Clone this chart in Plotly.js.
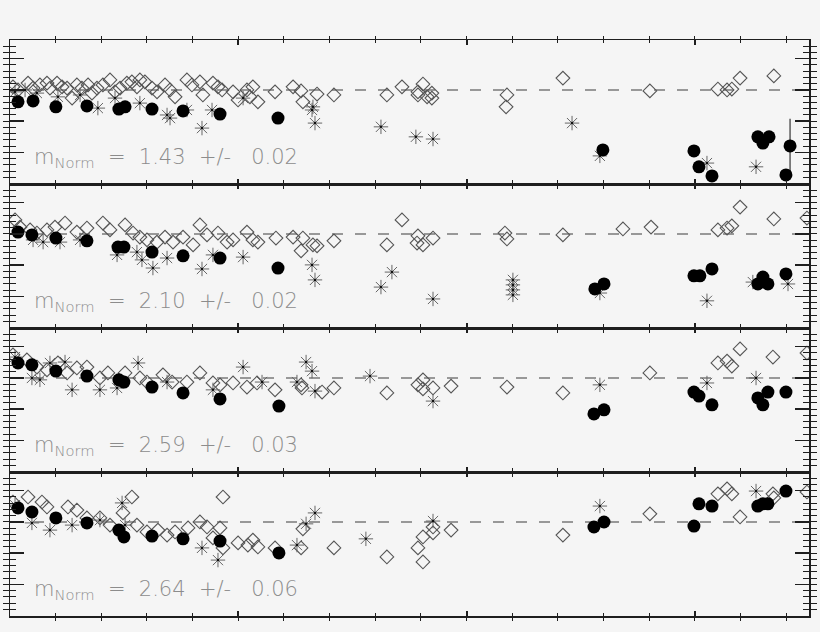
<!DOCTYPE html>
<html>
<head>
<meta charset="utf-8">
<script src="https://cdn.plot.ly/plotly-3.0.1.min.js"></script>
<style>html,body{margin:0;padding:0;background:#f5f5f5;}#chart{width:820px;height:632px;}</style>
</head>
<body>
<div id="chart"></div>
<script>
// ---------- data (x: 0..3.5, y: ratio, reference = 1) ----------
const REF = 1.0;
const mValues = ['1.43', '2.10', '2.59', '2.64'];
const mErrors = ['0.02', '0.02', '0.03', '0.06'];

// Panel 1
const p1DiaX = [0.013,0.035,0.079,0.101,0.131,0.162,0.175,0.206,0.228,0.250,0.272,0.293,0.315,0.342,0.359,0.381,0.407,0.438,0.460,0.482,0.512,0.534,0.556,0.569,0.591,0.622,0.644,0.679,0.701,0.723,0.775,0.797,0.832,0.845,0.889,0.911,0.929,0.977,0.999,1.038,1.051,1.064,1.086,1.161,1.240,1.275,1.283,1.345,1.419,1.651,1.717,1.787,1.809,1.787,1.827,1.848,1.848,2.177,2.173,2.422,2.803,3.101,3.141,3.162,3.198,3.346];
const p1DiaY = [1.010,1.000,1.022,1.006,1.016,1.022,1.006,1.022,1.010,1.006,0.974,1.016,1.006,1.016,0.990,1.006,1.016,1.032,0.994,1.006,1.022,1.026,1.010,1.032,1.026,1.006,0.994,1.016,1.000,0.978,1.032,1.016,1.026,0.984,1.022,1.010,1.000,0.994,0.968,1.000,0.978,1.010,0.962,0.994,1.010,0.997,0.962,0.987,0.984,0.984,1.010,0.994,1.019,0.984,0.978,0.990,0.974,0.984,0.946,1.038,0.997,1.003,1.000,1.003,1.038,1.045];
const p1AstX = [0.022,0.066,0.118,0.210,0.307,0.385,0.460,0.569,0.688,0.701,0.775,0.841,0.885,1.021,1.323,1.327,1.336,1.625,1.778,1.853,2.462,2.584,3.053,3.268];
const p1AstY = [0.994,1.000,0.990,0.978,0.984,0.942,0.974,0.958,0.920,0.910,0.936,0.878,0.936,0.974,0.936,0.946,0.894,0.882,0.850,0.843,0.894,0.789,0.766,0.754];
const p1CirX = [0.035,0.101,0.201,0.337,0.477,0.504,0.622,0.758,0.920,1.174,2.597,2.996,3.018,3.075,3.276,3.298,3.325,3.417,3.399];
const p1CirY = [0.962,0.965,0.946,0.949,0.939,0.946,0.939,0.933,0.923,0.910,0.808,0.805,0.754,0.725,0.850,0.830,0.850,0.821,0.728];
const p1CirErr = [0,0,0,0,0,0,0,0,0,0,0,0,0,0,0,0,0,0.087,0];

// Panel 2
const p2DiaX = [0.022,0.044,0.088,0.118,0.162,0.197,0.241,0.293,0.337,0.407,0.438,0.504,0.539,0.569,0.600,0.644,0.679,0.714,0.758,0.802,0.832,0.863,0.911,0.951,0.977,1.038,1.064,1.086,1.165,1.240,1.283,1.275,1.327,1.345,1.419,1.651,1.717,1.787,1.783,1.809,1.853,2.168,2.177,2.422,2.685,2.808,3.101,3.141,3.162,3.198,3.346,3.491];
const p2DiaY = [1.045,1.022,1.013,1.003,1.013,1.022,1.035,1.006,1.019,1.035,1.013,1.029,1.003,0.990,0.981,0.974,0.990,0.974,0.990,0.965,1.029,0.997,1.003,0.974,0.981,1.006,0.981,0.974,0.987,0.990,0.987,0.946,0.965,0.962,0.978,0.965,1.045,0.994,0.971,0.965,0.987,1.003,0.984,0.997,1.016,1.022,1.013,1.019,1.026,1.086,1.048,1.051];
const p2AstX = [0.101,0.145,0.219,0.307,0.469,0.556,0.578,0.626,0.688,0.841,0.889,1.021,1.323,1.336,1.625,1.673,1.853,2.203,2.203,2.203,2.203,2.584,3.053,3.254,3.408];
const p2AstY = [0.981,0.974,0.974,0.981,0.933,0.942,0.917,0.891,0.923,0.888,0.933,0.926,0.901,0.853,0.830,0.878,0.792,0.853,0.837,0.821,0.805,0.811,0.786,0.846,0.840];
const p2CirX = [0.035,0.096,0.201,0.337,0.473,0.499,0.622,0.758,0.920,1.174,2.562,2.602,2.996,3.022,3.075,3.276,3.298,3.320,3.399];
const p2CirY = [1.006,0.997,0.987,0.978,0.958,0.958,0.942,0.930,0.923,0.891,0.824,0.840,0.866,0.866,0.888,0.840,0.862,0.840,0.872];

// Panel 3
const p3DiaX = [0.013,0.074,0.118,0.162,0.210,0.250,0.293,0.337,0.394,0.429,0.504,0.569,0.600,0.670,0.710,0.775,0.832,0.889,0.920,0.977,1.038,1.082,1.161,1.275,1.279,1.367,1.419,1.651,1.787,1.809,1.809,1.853,1.932,2.177,2.422,2.803,3.101,3.141,3.162,3.198,3.342,3.491];
const p3DiaY = [1.074,1.058,1.035,1.026,1.048,1.016,1.032,1.035,1.000,1.016,1.016,1.000,0.987,1.010,0.987,0.987,1.016,0.984,0.978,0.984,0.971,0.984,0.962,0.978,0.968,0.955,0.968,0.952,0.978,0.994,0.965,0.968,0.974,0.971,0.952,1.016,1.048,1.054,1.038,1.093,1.067,1.080];
const p3AstX = [0.022,0.096,0.131,0.175,0.241,0.272,0.394,0.469,0.561,0.688,0.889,1.021,1.104,1.257,1.297,1.323,1.336,1.577,1.853,2.584,3.053,3.268];
const p3AstY = [1.067,1.000,0.994,1.048,1.051,0.962,0.962,0.968,1.048,0.987,0.962,1.035,0.987,0.987,1.051,1.022,0.958,1.006,0.926,0.978,0.984,1.000];
const p3CirX = [0.035,0.096,0.201,0.337,0.477,0.499,0.622,0.758,0.920,1.178,2.558,2.602,2.996,3.018,3.075,3.276,3.298,3.320,3.399];
const p3CirY = [1.048,1.042,1.022,1.006,0.994,0.987,0.971,0.952,0.933,0.910,0.885,0.898,0.955,0.942,0.914,0.936,0.914,0.955,0.955];

// Panel 4
const p4DiaX = [0.013,0.079,0.140,0.162,0.254,0.293,0.337,0.394,0.438,0.495,0.534,0.556,0.600,0.648,0.688,0.723,0.780,0.832,0.863,0.889,0.920,0.933,0.933,0.999,1.042,1.064,1.086,1.161,1.275,1.283,1.419,1.651,1.787,1.809,1.809,1.853,1.853,1.932,2.422,2.803,3.101,3.141,3.162,3.198,3.342,3.346,3.491];
const p4DiaY = [1.064,1.080,1.064,1.048,1.048,1.038,1.013,1.013,0.990,1.029,1.080,0.990,0.968,0.974,0.958,0.968,0.981,1.000,0.984,0.949,0.981,1.080,0.917,0.933,0.926,0.942,0.920,0.917,0.917,0.978,0.917,0.888,0.917,0.952,0.872,0.965,0.984,0.974,0.958,1.026,1.090,1.106,1.090,1.016,1.090,1.077,1.096];
const p4AstX = [0.022,0.096,0.175,0.272,0.394,0.491,0.504,0.841,0.911,1.257,1.297,1.336,1.559,1.853,2.584,3.268];
const p4AstY = [1.054,0.997,0.974,0.990,1.006,1.061,0.990,0.917,0.878,0.926,0.994,1.029,0.946,1.003,1.051,1.099];
const p4CirX = [0.035,0.096,0.201,0.337,0.477,0.499,0.622,0.758,0.920,1.178,2.558,2.602,2.996,3.018,3.075,3.276,3.298,3.320,3.399];
const p4CirY = [1.045,1.032,1.013,0.997,0.974,0.952,0.955,0.946,0.939,0.901,0.984,1.000,0.987,1.058,1.051,1.051,1.058,1.058,1.099];

// ---------- build ----------
const panels = [
  {dx:p1DiaX, dy:p1DiaY, ax:p1AstX, ay:p1AstY, cx:p1CirX, cy:p1CirY, ce:p1CirErr},
  {dx:p2DiaX, dy:p2DiaY, ax:p2AstX, ay:p2AstY, cx:p2CirX, cy:p2CirY},
  {dx:p3DiaX, dy:p3DiaY, ax:p3AstX, ay:p3AstY, cx:p3CirX, cy:p3CirY},
  {dx:p4DiaX, dy:p4DiaY, ax:p4AstX, ay:p4AstY, cx:p4CirX, cy:p4CirY}
];

const FRAME = '#1e1e1e';
const XRANGE = [0, 3.5];
const YRANGE = [0.699, 1.16];
const NB = '\u00A0';
const traces = [];
const layout = {
  width: 820, height: 632,
  margin: {l: 10, r: 11, t: 40, b: 16, pad: 0},
  paper_bgcolor: '#f5f5f5', plot_bgcolor: '#f5f5f5',
  showlegend: false,
  shapes: [], annotations: []
};

const axName = (p, k) => (k === 1 ? p : p + k);
const keyName = (p, k) => (k === 1 ? p + 'axis' : p + 'axis' + k);

panels.forEach((p, i) => {
  const n = i + 1;
  const nOv = n + 4;
  const xa = axName('x', n), ya = axName('y', n);
  const xo = axName('x', nOv), yo = axName('y', nOv);
  const top = 1 - i * 0.25, bot = top - 0.25;

  // base axes carry the minor ticks
  layout[keyName('x', n)] = {
    domain: [0, 1], anchor: ya, range: XRANGE,
    showgrid: false, zeroline: false, showticklabels: false,
    showline: true, linecolor: FRAME, linewidth: 1.5, mirror: 'allticks',
    ticks: 'inside', tick0: 0, dtick: 0.2, ticklen: 3, tickwidth: 1, tickcolor: FRAME
  };
  layout[keyName('y', n)] = {
    domain: [bot, top], anchor: xa, range: YRANGE,
    showgrid: false, zeroline: false, showticklabels: false,
    showline: true, linecolor: FRAME, linewidth: 1.5, mirror: 'allticks',
    ticks: 'inside', tick0: 0, dtick: 0.02, ticklen: 6, tickwidth: 1, tickcolor: FRAME
  };
  // overlay axes carry the major ticks
  layout[keyName('x', nOv)] = {
    overlaying: xa, anchor: ya, range: XRANGE,
    showgrid: false, zeroline: false, showticklabels: false,
    showline: true, linecolor: FRAME, linewidth: 1.5, mirror: 'allticks',
    ticks: 'inside', tick0: 0, dtick: 1, ticklen: 5, tickwidth: 2, tickcolor: FRAME
  };
  layout[keyName('y', nOv)] = {
    overlaying: ya, anchor: xa, range: YRANGE,
    showgrid: false, zeroline: false, showticklabels: false,
    showline: true, linecolor: FRAME, linewidth: 1.5, mirror: 'allticks',
    ticks: 'inside', tick0: 0, dtick: 0.1, ticklen: 14, tickwidth: 1.5, tickcolor: FRAME
  };
  traces.push({type: 'scatter', mode: 'markers', x: [null], y: [null], xaxis: xa, yaxis: yo, hoverinfo: 'skip'});
  traces.push({type: 'scatter', mode: 'markers', x: [null], y: [null], xaxis: xo, yaxis: ya, hoverinfo: 'skip'});

  layout.shapes.push({
    type: 'line', xref: 'paper', x0: 0, x1: 1, yref: ya, y0: REF, y1: REF,
    line: {color: '#7a7a7a', width: 1.5, dash: '11px,12px'}, layer: 'below'
  });

  layout.annotations.push({
    xref: 'paper', yref: ya, x: 0.028, y: 0.782, xanchor: 'left', yanchor: 'middle',
    showarrow: false,
    text: 'm<sub>Norm</sub>' + NB + NB + '=' + NB + NB + mValues[i] + NB + NB + '+/-' + NB + NB + NB + mErrors[i],
    font: {family: 'DejaVu Sans, sans-serif', size: 21, color: '#8c8c8c', weight: 300}
  });

  traces.push({
    type: 'scatter', mode: 'markers', x: p.dx, y: p.dy, xaxis: xa, yaxis: ya,
    marker: {symbol: 'diamond-open', size: 10.5, color: '#555', line: {width: 1.1, color: '#555'}},
    cliponaxis: true, hoverinfo: 'skip'
  });
  traces.push({
    type: 'scatter', mode: 'markers', x: p.ax, y: p.ay, xaxis: xa, yaxis: ya,
    marker: {symbol: 'asterisk-open', size: 12, color: '#666', line: {width: 1, color: '#666'}},
    cliponaxis: true, hoverinfo: 'skip'
  });
  traces.push({
    type: 'scatter', mode: 'markers', x: p.ax, y: p.ay, xaxis: xa, yaxis: ya,
    marker: {symbol: 'circle', size: 2.5, color: '#111', line: {width: 0}},
    cliponaxis: true, hoverinfo: 'skip'
  });
  const circ = {
    type: 'scatter', mode: 'markers', x: p.cx, y: p.cy, xaxis: xa, yaxis: ya,
    marker: {symbol: 'circle', size: 13, color: '#000', line: {width: 0}},
    cliponaxis: true, hoverinfo: 'skip'
  };
  if (p.ce) {
    circ.error_y = {type: 'data', array: p.ce, visible: true, width: 0, thickness: 1.2, color: '#333'};
  }
  traces.push(circ);
});

Plotly.newPlot('chart', traces, layout, {staticPlot: true, displayModeBar: false});
</script>
</body>
</html>
